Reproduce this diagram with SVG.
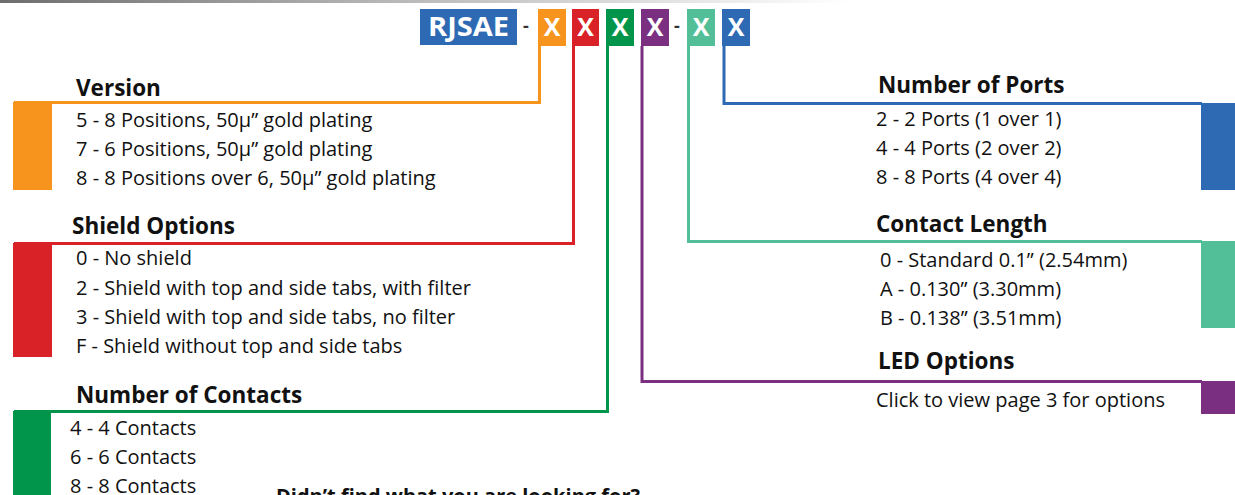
<svg xmlns="http://www.w3.org/2000/svg" width="1235" height="495" viewBox="0 0 1235 495">
<defs>
<linearGradient id="topbar" x1="0" x2="1" y1="0" y2="0">
<stop offset="0" stop-color="#6d6d6f"/>
<stop offset="0.45" stop-color="#b5b6b8"/>
<stop offset="1" stop-color="#ffffff"/>
</linearGradient>
<style>
.h{font-family:"Open Sans","Noto Sans","Liberation Sans",sans-serif;font-weight:700;font-size:22.5px;fill:#111}
.t{font-family:"Open Sans","Noto Sans","Liberation Sans",sans-serif;font-size:20px;fill:#111}
.f{font-family:"Open Sans","Noto Sans","Liberation Sans",sans-serif;font-weight:700;font-size:20px;fill:#111}
.bx{font-family:"Open Sans","Liberation Sans",sans-serif;font-weight:700;fill:#fff;text-anchor:middle}
.xx{font-family:"Open Sans","Liberation Sans",sans-serif;font-weight:700;font-size:25px;fill:#fff;text-anchor:middle}
.dash{font-family:"Open Sans","Liberation Sans",sans-serif;font-weight:700;font-size:18px;fill:#333;text-anchor:middle}
.ln{fill:none;stroke-width:3}
</style>
</defs>
<rect x="0" y="0" width="850" height="3" fill="url(#topbar)"/>

<g id="header">
<rect x="420" y="9" width="97" height="36" fill="#2d6ab3"/>
<text class="bx" x="468.5" y="36" font-size="26" textLength="81" lengthAdjust="spacingAndGlyphs">RJSAE</text>
<text class="dash" x="526" y="32">-</text>
<rect x="538" y="9" width="28" height="37" fill="#f7941d"/>
<text class="xx" x="552" y="36">X</text>
<rect x="572" y="9" width="27" height="37" fill="#d92128"/>
<text class="xx" x="585.5" y="36">X</text>
<rect x="606" y="9" width="28" height="37" fill="#00954a"/>
<text class="xx" x="620" y="36">X</text>
<rect x="641" y="9" width="28" height="37" fill="#7a2f80"/>
<text class="xx" x="655" y="36">X</text>
<text class="dash" x="677" y="32">-</text>
<rect x="687" y="9" width="28" height="37" fill="#52bf98"/>
<text class="xx" x="701" y="36">X</text>
<rect x="722" y="9" width="28" height="37" fill="#2d6ab3"/>
<text class="xx" x="736" y="36">X</text>
</g>

<g id="connectors">
<path class="ln" stroke="#f7941d" d="M539.5 46 V102.5 H14"/>
<path class="ln" stroke="#d92128" d="M573.5 46 V243.5 H14"/>
<path class="ln" stroke="#00954a" d="M607.5 46 V411.5 H14"/>
<path class="ln" stroke="#7a2f80" d="M642 46 V381.5 H1202"/>
<path class="ln" stroke="#52bf98" d="M688.5 46 V241.5 H1202"/>
<path class="ln" stroke="#2d6ab3" d="M724 46 V103.5 H1202"/>
</g>

<g id="version">
<rect x="13" y="102" width="39" height="88" fill="#f7941d"/>
<text class="h" x="76" y="96">Version</text>
<text class="t" x="76" y="127">5 - 8 Positions, 50µ” gold plating</text>
<text class="t" x="76" y="156">7 - 6 Positions, 50µ” gold plating</text>
<text class="t" x="76" y="185">8 - 8 Positions over 6, 50µ” gold plating</text>
</g>

<g id="shield">
<rect x="13" y="243" width="39" height="114" fill="#d92128"/>
<text class="h" x="72" y="234">Shield Options</text>
<text class="t" x="76" y="265">0 - No shield</text>
<text class="t" x="76" y="295">2 - Shield with top and side tabs, with filter</text>
<text class="t" x="76" y="324">3 - Shield with top and side tabs, no filter</text>
<text class="t" x="76" y="353">F - Shield without top and side tabs</text>
</g>

<g id="contacts">
<rect x="13" y="411" width="38" height="84" fill="#00954a"/>
<text class="h" x="76" y="403">Number of Contacts</text>
<text class="t" x="70" y="435">4 - 4 Contacts</text>
<text class="t" x="70" y="464">6 - 6 Contacts</text>
<text class="t" x="70" y="493">8 - 8 Contacts</text>
</g>

<g id="ports">
<rect x="1201" y="103" width="34" height="87" fill="#2d6ab3"/>
<text class="h" x="878" y="93">Number of Ports</text>
<text class="t" x="876" y="126">2 - 2 Ports (1 over 1)</text>
<text class="t" x="876" y="155">4 - 4 Ports (2 over 2)</text>
<text class="t" x="876" y="184">8 - 8 Ports (4 over 4)</text>
</g>

<g id="length">
<rect x="1201" y="241" width="34" height="87" fill="#52bf98"/>
<text class="h" x="876" y="232">Contact Length</text>
<text class="t" x="880" y="267">0 - Standard 0.1” (2.54mm)</text>
<text class="t" x="880" y="296">A - 0.130” (3.30mm)</text>
<text class="t" x="880" y="325">B - 0.138” (3.51mm)</text>
</g>

<g id="led">
<rect x="1201" y="381" width="34" height="33" fill="#7a2f80"/>
<text class="h" x="878" y="369">LED Options</text>
<text class="t" x="876" y="407">Click to view page 3 for options</text>
</g>

<g id="footer">
<text class="f" x="276" y="503">Didn’t find what you are looking for?</text>
</g>
</svg>
